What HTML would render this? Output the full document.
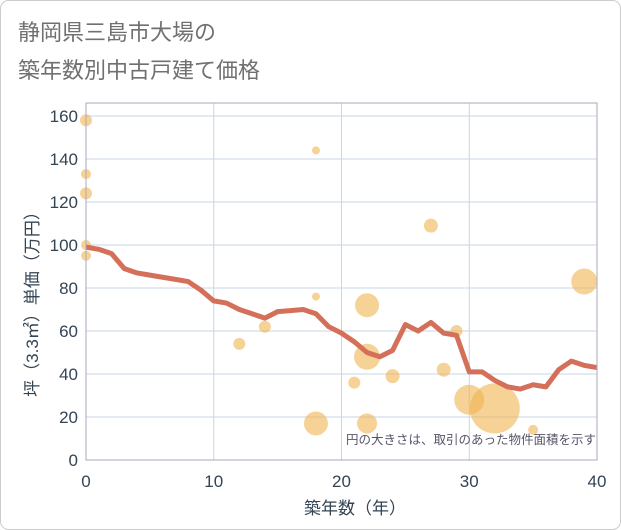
<!DOCTYPE html>
<html><head><meta charset="utf-8"><style>
body{margin:0;background:#fff;}
svg{display:block;font-family:"Liberation Sans","Noto Sans CJK JP",sans-serif;}
</style></head><body>
<svg id="c" width="621" height="530" xmlns="http://www.w3.org/2000/svg">
<rect x="0.5" y="0.5" width="620" height="529" rx="8" fill="#fff" stroke="#ccc"/>
<text x="18" y="40" font-size="22" fill="#707070">静岡県三島市大場の</text>
<text x="18" y="78" font-size="22" fill="#707070">築年数別中古戸建て価格</text>
<g id="grid"></g>
<g id="bubbles"></g>
<g id="line"></g>
<g id="axes"></g>
<text x="596" y="444" font-size="12.5" fill="#556" text-anchor="end">円の大きさは、取引のあった物件面積を示す</text>
<text x="355" y="514" font-size="17" fill="#345" text-anchor="middle">築年数（年）</text>
<text transform="translate(38,300) rotate(-90)" font-size="17" fill="#345" text-anchor="middle">坪（3.3㎡）単価（万円）</text>
</svg>
<script>
const xTicks=[0,10,20,30,40];
const yTicks=[0,20,40,60,80,100,120,140,160];
const lineX=[0,1,2,3,4,5,6,7,8,9,10,11,12,13,14,15,16,17,18,19,20,21,22,23,24,25,26,27,28,29,30,31,32,33,34,35,36,37,38,39,40];
const lineY=[99,98,96,89,87,86,85,84,83,79,74,73,70,68,66,69,69.5,70,68,62,59,55,50,48,51,63,60,64,59,58,41,41,37,34,33,35,34,42,46,44,43];
const bubX=[0,0,0,0,0,18,18,27,39,22,29,14,12,22,28,24,21,18,22,30,32,35];
const bubY=[158,133,124,100,95,144,76,109,83,72,60,62,54,48,42,39,36,17,17,28,24,14];
const bubR=[6,5,6,5,5,4,4,7,13,12,6,6,6,13,7,7,6,12,10,15,25,5];
const NS="http://www.w3.org/2000/svg";
const X0=86,X1=597,Y0=460,Y1=103;
const sx=v=>X0+(v/40)*(X1-X0);
const sy=v=>Y0-(v/160)*(Y0-116);
function mk(t,a,p){const e=document.createElementNS(NS,t);for(const k in a)e.setAttribute(k,a[k]);p.appendChild(e);return e;}
const grid=document.getElementById('grid');
yTicks.forEach(v=>{const l=mk('line',{x1:X0,x2:X1,y1:sy(v),y2:sy(v),stroke:'#c8d6e6','stroke-width':1},grid);

});
xTicks.forEach(v=>{const l=mk('line',{x1:sx(v),x2:sx(v),y1:Y1,y2:Y0,stroke:'#c8d6e6','stroke-width':1},grid);

});
const bg=document.getElementById('bubbles');
bubX.forEach((v,i)=>{const c=mk('circle',{cx:sx(v),cy:sy(bubY[i]),r:bubR[i],fill:'#f0b450','fill-opacity':0.6},bg);

});
const pts=lineX.map((v,i)=>sx(v)+','+sy(lineY[i])).join(' ');
const pl=mk('polyline',{points:pts,fill:'none',stroke:'#d4705a','stroke-width':5,'stroke-linejoin':'round'},document.getElementById('line'));


const ax=document.getElementById('axes');
const fr=mk('rect',{x:X0,y:Y1,width:X1-X0,height:Y0-Y1,fill:'none',stroke:'#aab','stroke-width':1},ax);


yTicks.forEach(v=>{const t=mk('text',{x:78,y:sy(v)+6,'font-size':17,fill:'#345','text-anchor':'end'},ax);t.textContent=v;

});
xTicks.forEach(v=>{const t=mk('text',{x:sx(v),y:487,'font-size':17,fill:'#345','text-anchor':'middle'},ax);t.textContent=v;

});
</script>
</body></html>
